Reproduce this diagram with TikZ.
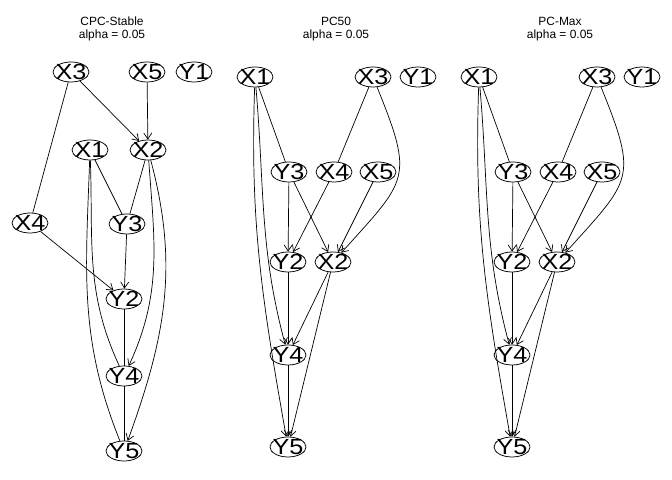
\documentclass[tikz,border=0pt]{standalone}
\usepackage{fontspec}
\setmainfont{Liberation Sans}
\usepackage{graphicx}
\usetikzlibrary{shapes.geometric,arrows.meta}
\tikzset{
  vnode/.style={ellipse, draw, line width=0.75bp, minimum width=36bp, minimum height=20bp, inner sep=0pt},
  lab/.style={font=\fontsize{22}{22}\selectfont, inner sep=0pt},
  ed/.style={line width=0.7bp},
  dir/.style={ed, -{Straight Barb[length=6bp,width=8bp]}},
  ttl/.style={font=\fontsize{12}{14}\selectfont, anchor=base, inner sep=0pt},
}
\newcommand{\vn}[3]{\node[vnode, label={[lab]center:\scalebox{1.15}[1]{#3}}] (#1) at (#2) {};}
\begin{document}
\begin{tikzpicture}[x=1bp,y=1bp]
\useasboundingbox (0,0) rectangle (672,480);
% ---------- Panel 1: CPC-Stable ----------
\node[ttl] (t1a) at (112,454) {CPC-Stable};
\node[ttl] (t1b) at (112,441) {alpha = 0.05};
\vn{x3}{71,408}{X3}
\vn{x5}{147,408}{X5}
\vn{y1}{194,408}{Y1}
\vn{x1}{90,330}{X1}
\vn{x2}{148,330}{X2}
\vn{x4}{30,257}{X4}
\vn{y3}{127,256}{Y3}
\vn{y2}{124,181}{Y2}
\vn{y4}{124,104}{Y4}
\vn{y5}{124,29}{Y5}
\draw[ed] (x3) -- (x4);
\draw[dir] (x3) -- (x2);
\draw[dir] (x5) -- (x2);
\draw[ed] (x1) -- (y3);
\draw[ed] (x2) -- (y3);
\draw[ed] (x1) to[out=-92,in=112] (y5);
\draw[ed] (x1) to[out=-88,in=115] (y4);
\draw[dir] (x2) to[out=-86,in=65] (y4);
\draw[dir] (x2) to[out=-75,in=70] (y5);
\draw[dir] (x4) -- (y2);
\draw[dir] (y3) -- (y2);
\draw[ed] (y2) -- (y4);
\draw[ed] (y4) -- (y5);
% ---------- Panels 2 and 3 ----------
\foreach \dx/\ttxt in {224/PC50, 448/PC-Max}{
\begin{scope}[xshift=\dx bp, name prefix=p\dx-]
\node[ttl] (ta) at (112,454) {\ttxt};
\node[ttl] (tb) at (112,441) {alpha = 0.05};
\vn{x1}{31,403}{X1}
\vn{x3}{149,403}{X3}
\vn{y1}{194,403}{Y1}
\vn{y3}{65,308}{Y3}
\vn{x4}{110,308}{X4}
\vn{x5}{154,308}{X5}
\vn{y2}{64,218}{Y2}
\vn{x2}{109,218}{X2}
\vn{y4}{64,125}{Y4}
\vn{y5}{64,33}{Y5}
\draw[ed] (x1) -- (y3);
\draw[ed] (x3) -- (x4);
\draw[dir] (x3) to[out=-68,in=48,looseness=1.5] (x2);
\draw[dir] (x1) to[out=-85,in=105] (y4);
\draw[dir] (x1) to[out=-92,in=100] (y5);
\draw[dir] (y3) -- (y2);
\draw[dir] (y3) -- (x2);
\draw[dir] (x4) -- (y2);
\draw[dir] (x5) -- (x2);
\draw[dir] (y2) -- (y4);
\draw[dir] (x2) -- (y4);
\draw[dir] (x2) -- (y5);
\draw[dir] (y4) -- (y5);
\end{scope}
}
\end{tikzpicture}
\end{document}
